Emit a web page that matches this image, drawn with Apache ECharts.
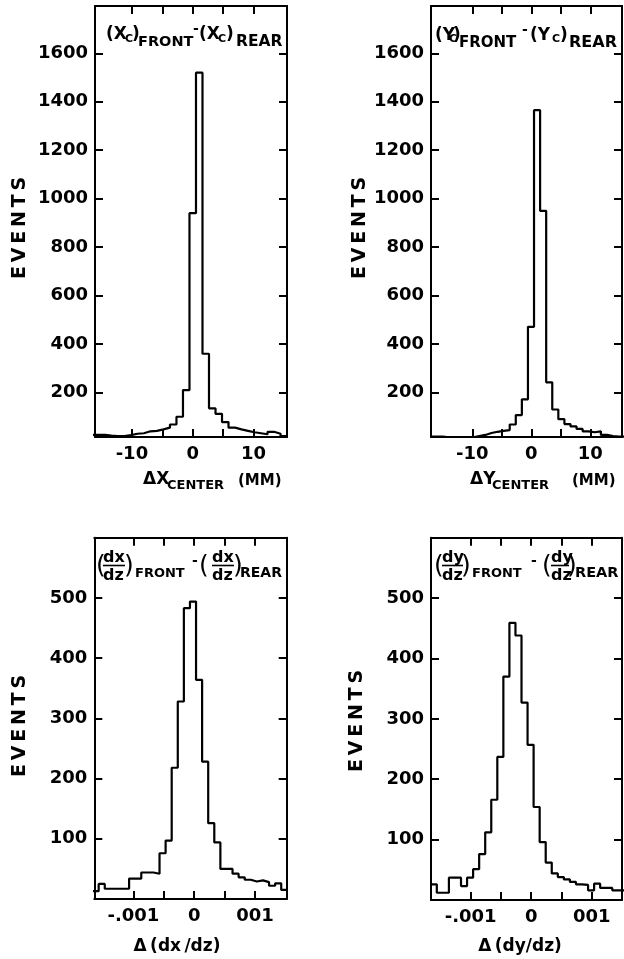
<!DOCTYPE html>
<html>
<head>
<meta charset="utf-8">
<script src="https://cdn.jsdelivr.net/npm/echarts@6.0.0/dist/echarts.min.js"></script>
<style>
html,body{margin:0;padding:0;background:#ffffff;}
#chart{width:624px;height:959px;}
</style>
</head>
<body>
<div id="chart"></div>
<script>
// ---------------- data ----------------
// (Xc)front - (Xc)rear  [mm]
const dxcBinStart = -16.58;
const dxcBinWidth = 1.07;
const dxcCounts = [25, 25, 22, 20, 20, 24, 30, 32, 40, 42, 48, 55, 68, 100, 210, 940, 1520, 360, 135, 112, 78, 55, 48, 42, 36, 32, 28, 38, 30, 20];
// (Yc)front - (Yc)rear  [mm]
const dycBinStart = -17.05;
const dycBinWidth = 1.03;
const dycCounts = [18, 18, 15, 15, 15, 15, 15, 20, 25, 33, 38, 42, 45, 68, 107, 172, 471, 1365, 950, 242, 130, 90, 70, 60, 50, 40, 36, 40, 25, 20, 18, 18];
// (dx/dz)front - (dx/dz)rear
const ddxBinStart = -0.00167;
const ddxBinWidth = 0.0001;
const ddxCounts = [13, 25, 17, 17, 17, 17, 34, 34, 44, 44, 42, 76, 97, 218, 328, 483, 494, 364, 228, 126, 94, 50, 50, 42, 36, 32, 29, 31, 28, 22, 26, 15];
// (dy/dz)front - (dy/dz)rear
const ddyBinStart = -0.00166;
const ddyBinWidth = 0.0001;
const ddyCounts = [26, 12, 12, 37, 37, 23, 37, 51, 76, 112, 166, 237, 370, 459, 438, 327, 257, 154, 96, 62, 44, 38, 34, 30, 26, 25, 16, 27, 20, 20, 16, 16];

// ticks & labels
const mmTicks = [-10, -5, 0, 5, 10];
const mmLabelValues = [-10, 0, 10];
const mmLabels = ['-10', '0', '10'];
const slopeTicks = [-0.001, -0.0005, 0, 0.0005, 0.001];
const slopeLabelValues = [-0.001, 0, 0.001];
const slopeLabels = ['-.001', '0', '001'];
const topYTicks = [200, 400, 600, 800, 1000, 1200, 1400, 1600];
const bottomYTicks = [100, 200, 300, 400, 500];

// ---------------- layout ----------------
const FONT = '"DejaVu Sans", sans-serif';
const panels = [
  { grid: {left: 95, top: 6, width: 192, height: 431}, x: [-16.07, 15.51], y: [16.5, 1795],
    xTicks: mmTicks, xLabelVals: mmLabelValues, xLabels: mmLabels, yTicks: topYTicks,
    start: dxcBinStart, width: dxcBinWidth, counts: dxcCounts },
  { grid: {left: 431, top: 6, width: 191, height: 431}, x: [-17.0, 15.37], y: [16.5, 1795],
    xTicks: mmTicks, xLabelVals: mmLabelValues, xLabels: mmLabels, yTicks: topYTicks,
    start: dycBinStart, width: dycBinWidth, counts: dycCounts },
  { grid: {left: 94.3, top: 537.7, width: 192.4, height: 361.3}, x: [-0.001642, 0.00152], y: [0, 600],
    xTicks: slopeTicks, xLabelVals: slopeLabelValues, xLabels: slopeLabels, yTicks: bottomYTicks,
    start: ddxBinStart, width: ddxBinWidth, counts: ddxCounts },
  { grid: {left: 431, top: 537.7, width: 191, height: 362.3}, x: [-0.001656, 0.001501], y: [0, 600],
    xTicks: slopeTicks, xLabelVals: slopeLabelValues, xLabels: slopeLabels, yTicks: bottomYTicks,
    start: ddyBinStart, width: ddyBinWidth, counts: ddyCounts }
];

function stepPoints(start, width, counts) {
  const pts = counts.map((c, i) => [start + i * width, c]);
  pts.push([start + counts.length * width, counts[counts.length - 1]]);
  return pts;
}
function labelFor(p, v) {
  for (let i = 0; i < p.xLabelVals.length; i++) {
    if (Math.abs(v - p.xLabelVals[i]) < 1e-9) return p.xLabels[i];
  }
  return '';
}
const lineSt = {color: '#000', width: 2};
const labelSt = {color: '#000', fontSize: 18, fontWeight: 'bold', fontFamily: FONT};

const grids = [], xAxes = [], yAxes = [], series = [];
panels.forEach((p, gi) => {
  grids.push(Object.assign({containLabel: false}, p.grid));
  ['bottom', 'top'].forEach(pos => {
    xAxes.push({
      type: 'value', gridIndex: gi, position: pos, min: p.x[0], max: p.x[1],
      axisLine: {show: true, onZero: false, lineStyle: lineSt},
      axisTick: {show: true, inside: true, length: 8, lineStyle: lineSt, customValues: p.xTicks},
      axisLabel: pos === 'bottom'
        ? Object.assign({show: true, margin: 8, customValues: p.xLabelVals, formatter: v => labelFor(p, v)}, labelSt)
        : {show: false},
      splitLine: {show: false}
    });
  });
  ['left', 'right'].forEach(pos => {
    yAxes.push({
      type: 'value', gridIndex: gi, position: pos, min: p.y[0], max: p.y[1],
      axisLine: {show: true, onZero: false, lineStyle: lineSt},
      axisTick: {show: true, inside: true, length: 8, lineStyle: lineSt, customValues: p.yTicks},
      axisLabel: pos === 'left'
        ? Object.assign({show: true, margin: 7, customValues: p.yTicks, formatter: v => String(v)}, labelSt)
        : {show: false},
      splitLine: {show: false}
    });
  });
  series.push({
    type: 'line', step: 'end', xAxisIndex: gi * 2, yAxisIndex: gi * 2,
    data: stepPoints(p.start, p.width, p.counts),
    symbol: 'none', showSymbol: false, clip: true,
    lineStyle: {color: '#000', width: 2.2}, silent: true
  });
});

// ---------------- text helpers ----------------
function T(text, x, baseline, size, weight) {
  return {type: 'text', x: x, y: baseline - 0.35 * size, silent: true,
    style: {text: text, fill: '#000', fontSize: size, fontWeight: weight || 'bold', fontFamily: FONT,
      align: 'left', verticalAlign: 'middle', textAlign: 'left', textVerticalAlign: 'middle'}};
}
function TM(text, x, cy, size, align, weight) {
  return {type: 'text', x: x, y: cy, silent: true,
    style: {text: text, fill: '#000', fontSize: size, fontWeight: weight || 'bold', fontFamily: FONT,
      align: align || 'left', verticalAlign: 'middle', textAlign: align || 'left', textVerticalAlign: 'middle'}};
}
function L(x1, y1, x2, y2) {
  return {type: 'line', silent: true, shape: {x1: x1, y1: y1, x2: x2, y2: y2}, style: {stroke: '#000', lineWidth: 1.6}};
}
function V(text, x, cy, size) {
  return {type: 'text', x: x, y: cy, rotation: Math.PI / 2, silent: true,
    style: {text: text, fill: '#000', fontSize: size, fontWeight: 'bold', fontFamily: FONT,
      align: 'center', verticalAlign: 'middle', textAlign: 'center', textVerticalAlign: 'middle'}};
}
const EV = 'E\u2009V\u2009E\u2009N\u2009T\u2009S';
const texts = [
  // panel titles
  T('(X', 106, 41, 17), T('C', 125, 43, 11), T(')', 132, 41, 17), T('FRONT', 138, 47, 14.5),
  T('-', 193, 34, 14), T('(X', 199, 41, 17), T('C', 218, 43, 11), T(')', 226, 41, 17), T('REAR', 236, 47, 15.5),

  T('(Y', 435, 42, 17), T('C', 449, 43, 11), T(')', 453, 42, 17), T('FRONT', 459, 48, 15),
  T('-', 522, 35, 14), T('(Y', 530, 42, 17), T('C', 552, 43, 11), T(')', 560, 42, 17), T('REAR', 569, 48, 16),

  TM('(', 96, 566, 25, 'left', 'normal'), T('dx', 103, 563, 16), L(103, 565.5, 125, 565.5), T('dz', 103, 581, 16), TM(')', 124, 566, 25, 'left', 'normal'),
  T('FRONT', 135, 578, 13), T('-', 192, 566, 14),
  TM('(', 199, 566, 25, 'left', 'normal'), T('dx', 212, 563, 16), L(212, 565.5, 234, 565.5), T('dz', 212, 581, 16), TM(')', 233, 566, 25, 'left', 'normal'),
  T('REAR', 240, 578, 14),

  TM('(', 434, 566, 25, 'left', 'normal'), T('dy', 442, 563, 16), L(442, 565.5, 463, 565.5), T('dz', 442, 581, 16), TM(')', 461, 566, 25, 'left', 'normal'),
  T('FRONT', 472, 578, 13), T('-', 531, 566, 14),
  TM('(', 542, 566, 25, 'left', 'normal'), T('dy', 551, 563, 16), L(551, 565.5, 569, 565.5), T('dz', 551, 581, 16), TM(')', 567, 566, 25, 'left', 'normal'),
  T('REAR', 575, 578, 14.5),

  // axis titles
  T('\u0394X', 143, 486, 17), T('CENTER', 167, 490, 13), T('(MM)', 238, 486, 15),
  T('\u0394Y', 470, 486, 17), T('CENTER', 492, 490, 13), T('(MM)', 572, 486, 15),
  TM('\u0394\u2009(dx\u2009/dz)', 177, 947, 17, 'center'),
  TM('\u0394\u2009(dy/dz)', 520, 947, 17, 'center'),

  V(EV, 20, 228, 19), V(EV, 360, 228, 19), V(EV, 20, 726, 19), V(EV, 357, 721, 19)
];

const chart = echarts.init(document.getElementById('chart'), null, {renderer: 'canvas'});
chart.setOption({
  animation: false,
  backgroundColor: '#ffffff',
  grid: grids,
  xAxis: xAxes,
  yAxis: yAxes,
  series: series,
  graphic: {elements: texts}
});
</script>
</body>
</html>
